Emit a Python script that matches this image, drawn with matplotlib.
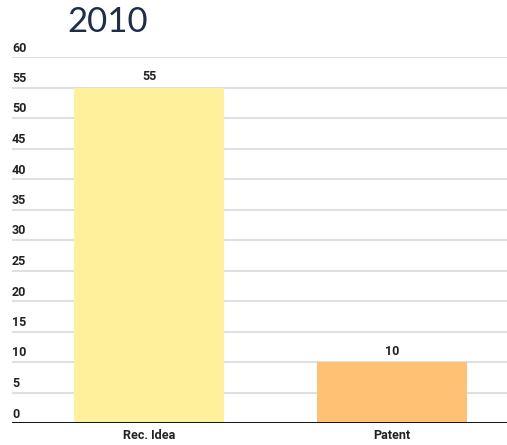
import matplotlib
matplotlib.use("Agg")
import matplotlib.pyplot as plt
from matplotlib.transforms import offset_copy

categories = ["Rec. Idea", "Patent"]
values = [55, 10]
colors = ["#FFF09C", "#FFC274"]
yticks = [0, 5, 10, 15, 20, 25, 30, 35, 40, 45, 50, 55, 60]
title = "2010"

fig = plt.figure(figsize=(5.07, 4.45), dpi=100)
ax = fig.add_axes([12/507, 1-423/445, 495/507, (423-57)/445])
x = list(range(len(categories)))
ax.bar(x, values, width=0.617, color=colors, zorder=2)
ax.set_xlim(-0.564, 1.473)
ax.set_ylim(0, 60)
tr = offset_copy(ax.get_yaxis_transform(), fig=fig, x=0, y=1.8, units="points")
for t in yticks:
    ax.axhline(t, color="#e0e0e0", lw=1.5, zorder=1)
    ax.text(0, t, str(t), transform=tr, ha="left", va="bottom",
            fontsize=9, family="Roboto", fontweight="bold", color="#222222")
ax.axhline(0, color="black", lw=2, zorder=3)
trd = offset_copy(ax.transData, fig=fig, x=0, y=3, units="points")
for xi, v in zip(x, values):
    ax.text(xi, v, str(v), transform=trd, ha="center", va="bottom", fontsize=9,
            family="Roboto", fontweight="bold", color="#222222")
ax.set_xticks(x)
ax.set_xticklabels(categories, fontsize=9, family="Roboto", fontweight="bold", color="#222222")
ax.tick_params(axis="x", length=0, pad=4)
ax.set_yticks([])
for s in ax.spines.values():
    s.set_visible(False)
fig.text(67/507, 1-22/445, title, fontsize=25, family="Lato", fontweight="normal", color="#1f2d4a", va="center", ha="left")
fig.savefig("out.png", dpi=100)
